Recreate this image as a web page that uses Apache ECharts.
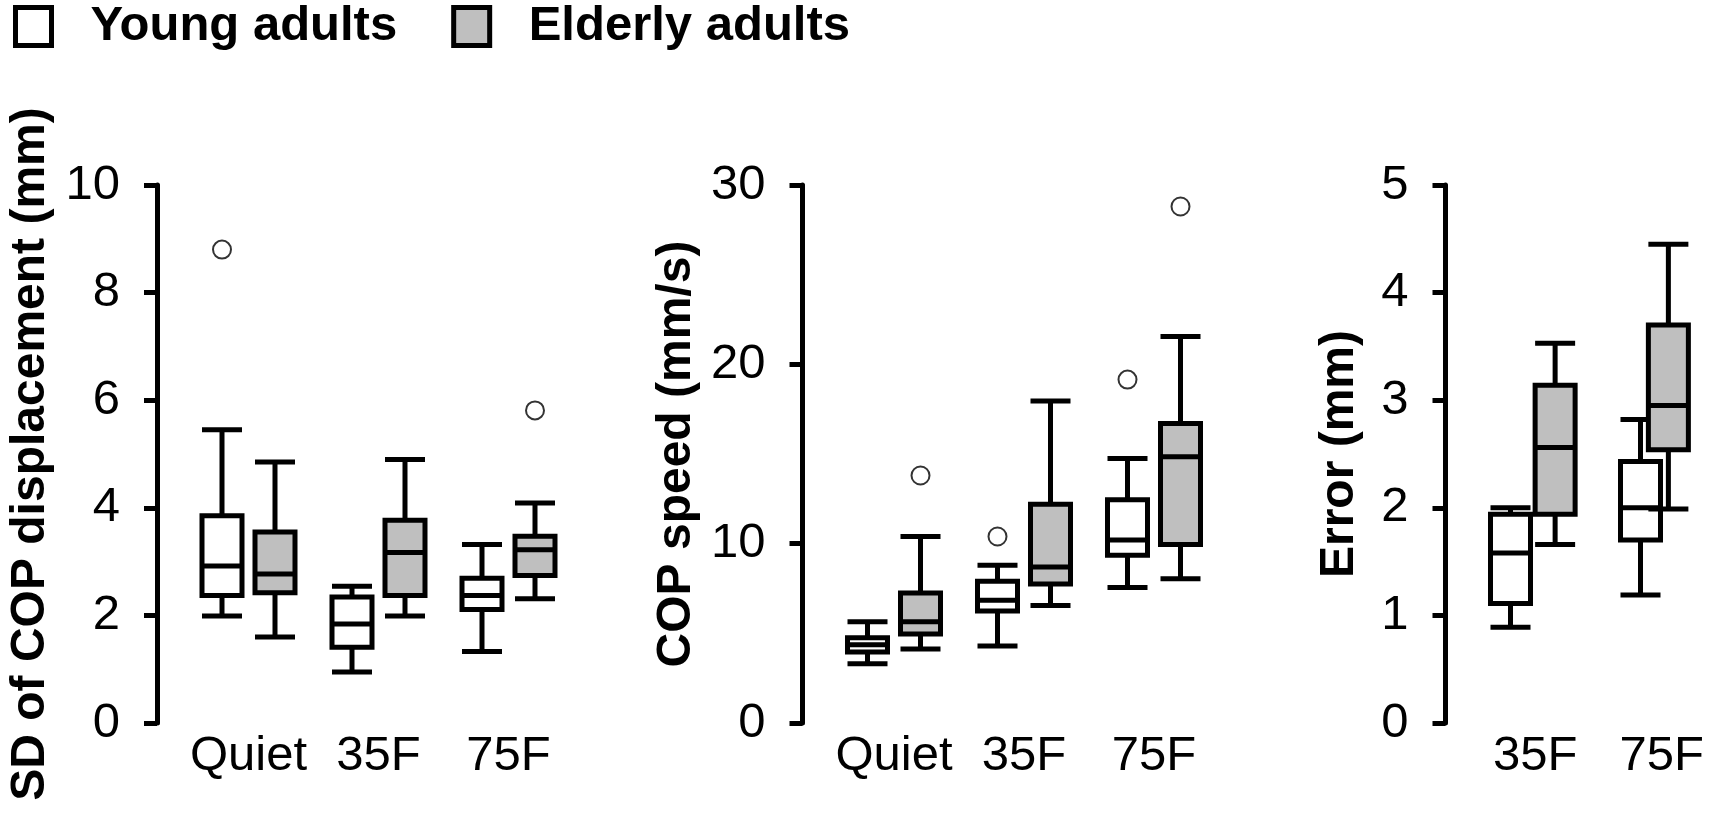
<!DOCTYPE html>
<html>
<head>
<meta charset="utf-8">
<script src="https://cdn.jsdelivr.net/npm/echarts@6/dist/echarts.min.js"></script>
<style>
html, body { margin: 0; padding: 0; background: #fff; }
#chart { width: 1725px; height: 834px; }
</style>
</head>
<body>
<div id="chart"></div>
<script>
// box values: [min, Q1, median, Q3, max]
var catsA = ['Quiet', '35F', '75F'];
var catsB = ['35F', '75F'];

var sdYoung = [[1.99, 2.37, 2.92, 3.85, 5.45], [0.95, 1.41, 1.84, 2.34, 2.54], [1.33, 2.11, 2.37, 2.69, 3.32]];
var sdElderly = [[1.6, 2.42, 2.77, 3.55, 4.85], [1.99, 2.37, 3.17, 3.77, 4.9], [2.31, 2.74, 3.22, 3.47, 4.09]];
var sdYoungOut = [['Quiet', 8.8]];
var sdElderlyOut = [['75F', 5.81]];

var speedYoung = [[3.3, 3.96, 4.36, 4.75, 5.65], [4.3, 6.25, 6.85, 7.9, 8.8], [7.55, 9.35, 10.2, 12.45, 14.75]];
var speedElderly = [[4.12, 4.96, 5.65, 7.25, 10.4], [6.55, 7.75, 8.7, 12.2, 17.95], [8.05, 9.95, 14.85, 16.7, 21.55]];
var speedYoungOut = [['35F', 10.4], ['75F', 19.15]];
var speedElderlyOut = [['Quiet', 13.8], ['75F', 28.8]];

var errYoung = [[0.89, 1.11, 1.58, 1.94, 2.0], [1.19, 1.7, 2.0, 2.43, 2.82]];
var errElderly = [[1.66, 1.94, 2.56, 3.14, 3.53], [1.99, 2.54, 2.95, 3.7, 4.45]];
var errYoungOut = [];
var errElderlyOut = [];

var yMax = [10, 30, 5];
var yStep = [2, 10, 1];
var yNames = ['SD of COP displacement (mm)', 'COP speed (mm/s)', 'Error (mm)'];

var FONT = 'Liberation Sans, Arial, sans-serif';
var SHIFT = 26.5; // half distance between the two boxes of a pair
var LW = 5;

var panels = [
	{ left: 183.5, width: 390, cats: catsA, young: sdYoung, elderly: sdElderly, youngOut: sdYoungOut, elderlyOut: sdElderlyOut, nameGap: 102 },
	{ left: 829, width: 390, cats: catsA, young: speedYoung, elderly: speedElderly, youngOut: speedYoungOut, elderlyOut: speedElderlyOut, nameGap: 102 },
	{ left: 1472, width: 260, cats: catsB, young: errYoung, elderly: errElderly, youngOut: errYoungOut, elderlyOut: errElderlyOut, nameGap: 82 }
];

var grid = [], xAxis = [], yAxis = [], series = [];

function addBoxes(name, fill, idx, boxes, outliers) {
	series.push({
		name: name,
		type: 'boxplot',
		xAxisIndex: idx,
		yAxisIndex: idx,
		boxWidth: [40, 40],
		itemStyle: { color: fill, borderColor: '#000', borderWidth: LW },
		emphasis: { disabled: true },
		silent: true,
		data: boxes
	});
	series.push({
		name: name,
		type: 'scatter',
		xAxisIndex: idx,
		yAxisIndex: idx,
		symbol: 'emptyCircle',
		symbolSize: 18,
		itemStyle: { color: '#000', borderWidth: 3.4 },
		silent: true,
		data: outliers
	});
}

for (var p = 0; p < panels.length; p++) {
	var pn = panels[p];
	var base = p * 3;
	// main grid: labels + visible y axis, then young / elderly grids shifted sideways
	var lefts = [pn.left, pn.left - SHIFT, pn.left + SHIFT];
	for (var k = 0; k < 3; k++) {
		grid.push({ left: lefts[k], width: pn.width, top: 185, height: 538 });
		xAxis.push({
			type: 'category',
			gridIndex: base + k,
			data: pn.cats,
			boundaryGap: true,
			show: k == 0,
			axisLine: { show: false },
			axisTick: { show: false },
			axisLabel: { interval: 0, margin: 9, fontSize: 49, fontFamily: FONT, color: '#000' }
		});
		yAxis.push({
			type: 'value',
			gridIndex: base + k,
			min: 0,
			max: yMax[p],
			interval: yStep[p],
			show: k == 0,
			offset: SHIFT,
			name: k == 0 ? yNames[p] : '',
			nameLocation: 'middle',
			nameGap: pn.nameGap,
			nameTextStyle: { fontSize: 48, fontWeight: 'bold', fontFamily: FONT, color: '#000' },
			axisLine: { show: true, lineStyle: { color: '#000', width: LW } },
			axisTick: { show: true, length: 13, lineStyle: { color: '#000', width: LW } },
			axisLabel: { margin: 37, fontSize: 49, fontFamily: FONT, color: '#000' },
			splitLine: { show: false }
		});
	}
	addBoxes('Young adults', '#ffffff', base + 1, pn.young, pn.youngOut);
	addBoxes('Elderly adults', '#bfbfbf', base + 2, pn.elderly, pn.elderlyOut);
}

var chart = echarts.init(document.getElementById('chart'));
chart.setOption({
	animation: false,
	backgroundColor: '#fff',
	legend: {
		left: 13,
		top: 2,
		padding: 0,
		itemWidth: 36,
		itemHeight: 38,
		itemGap: 54,
		selectedMode: false,
		textStyle: { fontSize: 49, fontWeight: 'bold', fontFamily: FONT, color: '#000', padding: [0, 0, 0, 34] },
		data: [
			{ name: 'Young adults', icon: 'rect', itemStyle: { color: '#ffffff', borderColor: '#000', borderWidth: LW } },
			{ name: 'Elderly adults', icon: 'rect', itemStyle: { color: '#bfbfbf', borderColor: '#000', borderWidth: LW } }
		]
	},
	grid: grid,
	xAxis: xAxis,
	yAxis: yAxis,
	series: series
});
</script>
</body>
</html>
